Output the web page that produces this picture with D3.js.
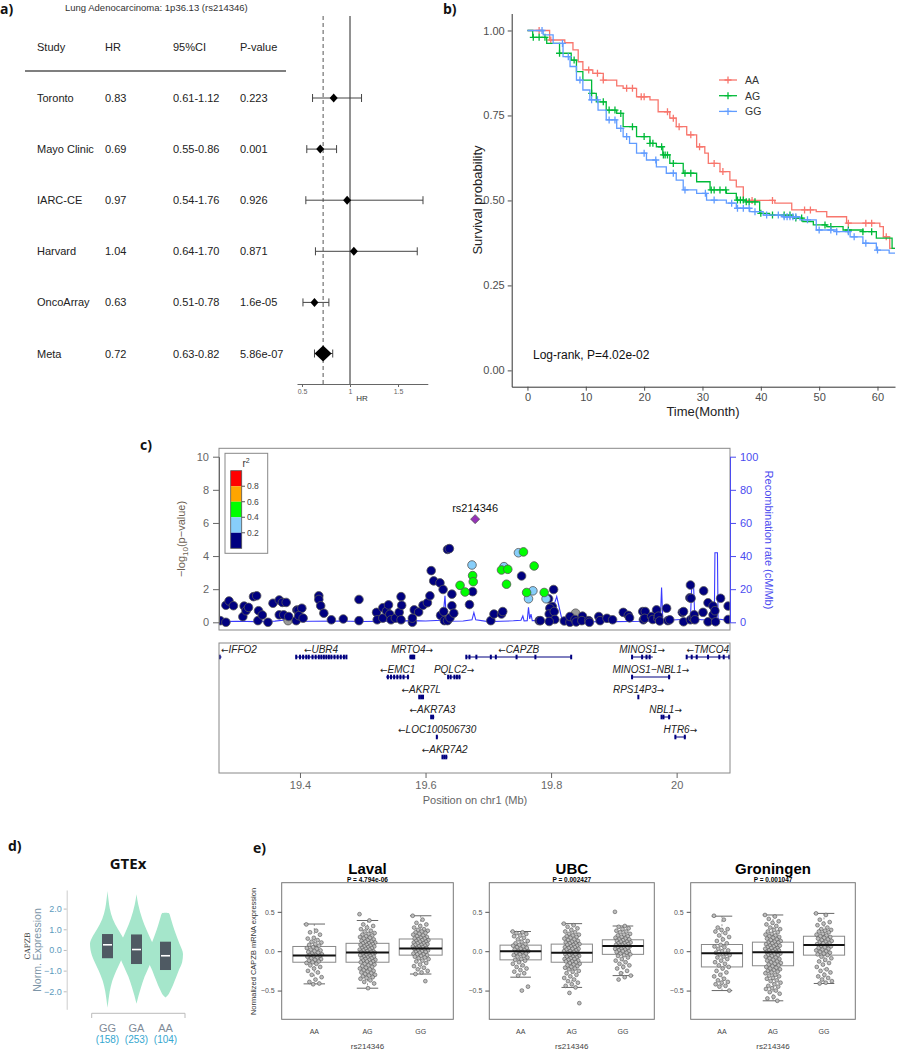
<!DOCTYPE html>
<html>
<head>
<meta charset="utf-8">
<script src="https://cdn.jsdelivr.net/npm/d3@7/dist/d3.min.js"></script>
<style>
body { margin: 0; background: #fff; }
text { font-family: "Liberation Sans", Arial, sans-serif; }
.plab { font-family: "Open Sans", sans-serif; font-weight: bold; font-size: 14px; fill: #111; }
</style>
</head>
<body>
<svg id="fig" width="900" height="1050"></svg>
<script>
/**
 * Data
 */
// a) forest plot
var studies = ["Toronto", "Mayo Clinic", "IARC-CE", "Harvard", "OncoArray", "Meta"];
var hr = [0.83, 0.69, 0.97, 1.04, 0.63, 0.72];
var ciLow = [0.61, 0.55, 0.54, 0.64, 0.51, 0.63];
var ciHigh = [1.12, 0.86, 1.76, 1.70, 0.78, 0.82];
var pvals = ["0.223", "0.001", "0.926", "0.871", "1.6e-05", "5.86e-07"];

// b) Kaplan-Meier steps
var kmGroups = ["AA", "AG", "GG"];
var kmColors = ["#F8766D", "#00BA38", "#619CFF"];
var kmTimes = [
    [0, 3.8, 6.4, 7.8, 8.7, 9.5, 11.2, 13, 15.3, 16.4, 18.7, 21, 22.4, 24.4, 25.5, 27.3, 29, 30.4, 31, 33, 34.7, 35.8, 37, 42.4, 45.3, 49.5, 51.3, 54.7, 60.4, 61, 62.1],
    [0, 0.9, 3.3, 5.5, 7.5, 8.4, 9.5, 11, 11.8, 13.5, 15.3, 16.4, 18.7, 21, 22.1, 23.2, 24.4, 26.7, 29, 31.3, 34.1, 35.8, 37.5, 39.8, 41.5, 45.5, 47.2, 49, 51.3, 54.1, 57.5, 59.8, 62.5],
    [0, 2.7, 4.4, 6.1, 7.3, 8.4, 9.5, 10.7, 12.1, 13.5, 15.3, 16.4, 17.5, 18.7, 20.4, 22.1, 23.8, 25.5, 26.7, 29, 30.7, 34.1, 35.8, 38.1, 40.4, 43.8, 46.7, 49.5, 53, 55.3, 57.5, 59.8, 62]
];
var kmSurv = [
    [1, 0.972, 0.964, 0.943, 0.908, 0.884, 0.874, 0.854, 0.837, 0.83, 0.805, 0.796, 0.761, 0.742, 0.717, 0.693, 0.658, 0.639, 0.609, 0.585, 0.56, 0.54, 0.50, 0.492, 0.472, 0.467, 0.452, 0.433, 0.423, 0.393, 0.359],
    [1, 0.98, 0.962, 0.933, 0.913, 0.879, 0.854, 0.815, 0.79, 0.766, 0.756, 0.717, 0.688, 0.668, 0.658, 0.634, 0.609, 0.58, 0.555, 0.531, 0.521, 0.501, 0.496, 0.462, 0.457, 0.448, 0.438, 0.428, 0.423, 0.413, 0.408, 0.389, 0.359],
    [1, 0.987, 0.962, 0.923, 0.894, 0.854, 0.825, 0.796, 0.766, 0.737, 0.712, 0.688, 0.668, 0.639, 0.619, 0.599, 0.58, 0.56, 0.531, 0.521, 0.501, 0.492, 0.477, 0.467, 0.457, 0.452, 0.443, 0.413, 0.408, 0.393, 0.374, 0.354, 0.345]
];
var kmCensor = [
    [2, 4, 10.5, 12, 13, 17, 18, 19.5, 20, 24, 25, 26, 28, 29.5, 32, 33.5, 38.5, 42, 47.5, 48.5, 55, 58, 59, 61.5],
    [1, 2, 3, 5.5, 8, 11, 13, 14, 15, 16, 18, 20, 21, 21.5, 23, 23.3, 23.6, 24, 25, 27, 28, 31.5, 32, 33, 34, 36, 36.5, 37, 37.5, 38, 39, 40, 42, 44, 45, 46, 47, 51, 52, 55, 57.5, 59],
    [2.5, 6, 7, 9, 11, 12, 14, 15, 16, 17, 20, 22, 25, 27, 30.5, 32, 35, 36, 37, 38, 39, 41, 43, 44, 44.5, 45, 45.5, 46, 48, 50, 52, 53, 55, 56, 58, 60]
];

// c) regional association: [position Mb, -log10 p, LD class] (0 navy <0.2, 1 light blue, 2 green, -1 grey, 9 lead SNP)
var lzPoints = [
    [19.273,0.1,0],[19.282,0.0,0],[19.282,1.03,0],[19.287,1.29,0],[19.294,1.0,0],[19.309,0.34,0],[19.311,0.98,0],
    [19.314,0.7,0],[19.318,0.9,0],[19.326,1.55,0],[19.331,1.6,0],[19.334,0.7,0],[19.333,0.1,0],[19.34,0.44,0],
    [19.349,0.0,0],[19.357,1.15,0],[19.367,1.35,0],[19.367,0.45,0],[19.372,1.2,0],[19.378,1.2,0],[19.374,0.45,0],
    [19.381,0.1,-1],[19.382,0.35,0],[19.394,0.1,0],[19.395,0.74,0],[19.397,0.72,0],[19.403,0.85,0],[19.398,0.4,0],
    [19.405,0.25,0],[19.43,1.6,0],[19.43,1.38,0],[19.433,1.0,0],[19.438,0.55,0],[19.45,0.15,0],[19.469,0.2,0],
    [19.494,1.38,0],[19.494,0.1,0],[19.522,0.6,0],[19.523,0.15,0],[19.532,0.88,0],[19.532,0.25,0],[19.538,0.68,0],
    [19.541,1.05,0],[19.543,0.48,0],[19.545,0.15,0],[19.552,0.25,0],[19.558,0.6,0],[19.561,1.55,0],[19.562,1.03,0],
    [19.561,0.15,0],[19.579,0.0,0],[19.579,0.25,0],[19.582,0.75,0],[19.589,0.62,0],[19.596,1.03,0],[19.603,1.18,0],
    [19.607,1.6,0],[19.609,3.12,0],[19.613,2.5,0],[19.623,2.38,0],[19.624,0.42,0],[19.628,1.98,0],[19.629,0.65,0],
    [19.63,0.1,0],[19.635,4.4,0],[19.638,4.45,0],[19.635,0.1,0],[19.639,0.27,0],[19.642,1.7,0],[19.642,1.0,0],
    [19.645,0.55,0],[19.655,2.23,2],[19.663,1.83,2],[19.67,1.07,0],[19.674,3.46,1],[19.675,2.82,2],[19.676,2.45,2],
    [19.675,1.85,0],[19.704,0.1,0],[19.709,0.5,0],[19.721,0.5,0],[19.723,0.65,0],[19.725,3.36,1],[19.721,3.16,2],
    [19.731,3.2,2],[19.729,2.3,2],[19.748,4.2,1],[19.756,4.25,2],[19.753,2.8,0],[19.761,1.8,2],[19.771,1.9,1],
    [19.764,1.42,1],[19.773,3.4,2],[19.781,0.1,0],[19.789,1.8,2],[19.792,1.42,1],[19.796,1.42,0],[19.804,1.98,0],
    [19.802,0.95,0],[19.798,0.85,0],[19.797,0.5,0],[19.805,0.65,0],[19.806,0.17,0],[19.797,0.05,0],[19.783,0.1,0],
    [19.821,0.08,0],[19.83,0.0,0],[19.83,0.35,0],[19.839,0.55,-1],[19.838,0.17,0],[19.84,0.02,0],[19.85,0.37,0],
    [19.849,0.1,0],[19.86,0.1,0],[19.861,0.0,0],[19.876,0.35,0],[19.878,0.1,0],[19.889,0.24,0],[19.898,0.15,0],
    [19.915,0.6,0],[19.923,0.42,0],[19.925,0.27,0],[19.946,0.65,0],[19.947,0.15,0],[19.95,0.65,0],[19.949,0.24,0],
    [19.96,0.35,0],[19.962,0.17,0],[19.968,0.75,0],[19.97,0.24,0],[19.971,0.37,0],[19.973,0.08,0],[19.984,0.85,0],
    [19.986,0.1,0],[19.989,0.15,0],[20.009,0.6,0],[20.011,0.65,0],[20.011,0.03,0],[20.022,2.25,0],[20.021,1.48,0],
    [20.023,1.45,0],[20.022,0.15,0],[20.026,0.25,0],[20.028,0.45,0],[20.029,0.15,0],[20.042,0.6,0],[20.043,1.9,0],
    [20.05,1.18,0],[20.05,0.03,0],[20.058,0.98,0],[20.058,0.45,0],[20.061,0.7,0],[20.062,0.03,0],[20.07,1.45,0],
    [20.082,0.98,0],[20.082,0.17,0],
    [19.679,6.23,9]
];
var leadSnp = "rs214346";
var ldBreaks = ["0.8", "0.6", "0.4", "0.2"];
var ldColors = ["#FF0000", "#FFA500", "#00FF00", "#87CEFA", "#000080"];

// recombination rate (cM/Mb)
var rcPos = [19.271,19.30,19.33,19.36,19.38,19.385,19.42,19.46,19.50,19.55,19.58,19.60,19.625,19.629,19.631,19.633,19.636,
    19.66,19.674,19.677,19.68,19.70,19.72,19.74,19.752,19.755,19.757,19.762,19.764,19.766,19.768,19.77,19.80,19.806,
    19.809,19.818,19.85,19.90,19.95,19.974,19.976,19.978,20.00,20.022,20.024,20.027,20.029,20.04,20.05,20.06,20.061,
    20.065,20.066,20.085];
var rcRate = [0.5,0.6,0.4,0.7,1.5,0.5,0.6,0.8,0.5,0.7,1.0,0.8,1.2,8,16,3,0.6,
    0.8,1.5,5.8,1.5,0.4,0.6,0.9,1.2,3.8,0.8,1,9,2,5,1,1.2,12,
    15.5,0.5,0.3,0.4,0.6,1,21,1,1.5,2,22,22,2,1.5,1.5,2,42,
    42,2,1];

// genes
var geneNames = ["IFFO2", "UBR4", "MRTO4", "CAPZB", "MINOS1", "TMCO4", "EMC1", "PQLC2", "MINOS1\u2212NBL1",
    "AKR7L", "RPS14P3", "AKR7A3", "NBL1", "LOC100506730", "HTR6", "AKR7A2"];
var geneStart = [19.23, 19.393, 19.574, 19.664, 19.928, 20.015, 19.537, 19.635, 19.928, 19.589, 19.939, 19.608, 19.975, 19.617, 19.997, 19.626];
var geneEnd = [19.275, 19.474, 19.583, 19.833, 19.962, 20.09, 19.574, 19.656, 19.99, 19.597, 19.940, 19.614, 19.99, 19.62, 20.015, 19.635];
var geneStrand = ["-", "-", "+", "-", "+", "-", "-", "+", "+", "-", "+", "-", "+", "-", "+", "-"];
var geneRow = [0, 0, 0, 0, 0, 0, 1, 1, 1, 2, 2, 3, 3, 4, 4, 5];
var geneExons = [
    [19.272],
    [19.394,19.40,19.405,19.41,19.414,19.42,19.425,19.43,19.434,19.438,19.442,19.446,19.45,19.455,19.46,19.465,19.47,19.474],
    [19.576,19.578,19.58,19.582],
    [19.665,19.67,19.681,19.704,19.712,19.745,19.775,19.832],
    [19.929,19.945,19.952,19.957],
    [20.016,20.024,20.032,20.05,20.068,20.075,20.084],
    [19.54,19.545,19.55,19.555,19.56,19.565,19.572],
    [19.636,19.64,19.646,19.65,19.654],
    [19.929,19.988],
    [19.59,19.593,19.596],
    [19.939],
    [19.609,19.612],
    [19.976,19.979,19.988],
    [19.618],
    [19.998,20.013],
    [19.627,19.63,19.633]
];

// d) GTEx violins: [expression, relative half width]
var gtexGenos = ["GG", "GA", "AA"];
var gtexCounts = ["(158)", "(253)", "(104)"];
var gtexProfile = [
    [[2.85,0],[2.4,0.06],[2.0,0.13],[1.5,0.3],[1.0,0.6],[0.6,0.88],[0.3,1.0],[0,0.97],[-0.5,0.78],[-1.0,0.5],[-1.5,0.27],[-2.0,0.13],[-2.4,0.06],[-2.8,0]],
    [[2.7,0],[2.2,0.1],[1.5,0.33],[1.0,0.56],[0.5,0.82],[0.1,1.0],[-0.3,0.95],[-0.8,0.72],[-1.3,0.46],[-1.8,0.26],[-2.2,0.12],[-2.6,0]],
    [[1.8,0],[1.78,0.2],[1.6,0.28],[1.2,0.42],[0.8,0.58],[0.3,0.8],[-0.2,1.0],[-0.6,0.95],[-1.0,0.75],[-1.5,0.52],[-1.9,0.32],[-2.2,0.12],[-2.3,0]]
];
// [q1, median, q3]
var gtexBox = [[-0.4, 0.25, 0.77], [-0.68, 0.02, 0.75], [-0.97, -0.28, 0.4]];

// e) eQTL box plots
var cohorts = ["Laval", "UBC", "Groningen"];
var cohortP = ["P = 4.794e-06", "P = 0.002427", "P = 0.001047"];
var eqGenos = ["AA", "AG", "GG"];
// [q1, median, q3, lower whisker, upper whisker]
var eqStats = [
    [[-0.14,-0.055,0.06,-0.415,0.345], [-0.14,-0.017,0.10,-0.47,0.39], [-0.05,0.035,0.155,-0.29,0.45]],
    [[-0.11,0.0,0.077,-0.33,0.25], [-0.14,-0.02,0.09,-0.46,0.35], [-0.04,0.065,0.145,-0.31,0.32]],
    [[-0.2,-0.025,0.085,-0.5,0.445], [-0.185,-0.013,0.115,-0.63,0.46], [-0.05,0.08,0.19,-0.41,0.48]]
];
var lavalAA = [0.34,0.26,0.24,0.21,0.17,0.16,0.14,0.12,0.11,0.09,0.08,0.07,0.05,0.04,0.03,0.02,0.01,0.0,-0.01,-0.02,-0.03,-0.04,-0.05,-0.05,-0.06,-0.06,-0.07,-0.08,-0.09,-0.1,-0.11,-0.12,-0.13,-0.14,-0.15,-0.16,-0.18,-0.2,-0.22,-0.25,-0.27,-0.3,-0.33,-0.36,-0.39,-0.41,-0.42];
var lavalAG = [0.47,0.39,0.34,0.32,0.3,0.28,0.26,0.25,0.23,0.22,0.21,0.2,0.19,0.18,0.17,0.16,0.15,0.14,0.13,0.12,0.12,0.11,0.1,0.1,0.09,0.08,0.08,0.07,0.06,0.06,0.05,0.04,0.04,0.03,0.02,0.02,0.01,0.0,0.0,-0.01,-0.01,-0.02,-0.02,-0.03,-0.03,-0.04,-0.05,-0.05,-0.06,-0.07,-0.07,-0.08,-0.09,-0.09,-0.1,-0.11,-0.11,-0.12,-0.13,-0.13,-0.14,-0.15,-0.16,-0.17,-0.18,-0.19,-0.2,-0.21,-0.22,-0.23,-0.24,-0.25,-0.26,-0.27,-0.28,-0.29,-0.3,-0.31,-0.32,-0.33,-0.34,-0.35,-0.37,-0.39,-0.41,-0.47];
var lavalGG = [0.45,0.4,0.36,0.34,0.32,0.3,0.28,0.27,0.26,0.25,0.24,0.23,0.22,0.21,0.2,0.19,0.18,0.17,0.16,0.16,0.15,0.14,0.14,0.13,0.12,0.12,0.11,0.1,0.1,0.09,0.08,0.08,0.07,0.06,0.06,0.05,0.04,0.04,0.03,0.03,0.02,0.01,0.01,0.0,-0.01,-0.01,-0.02,-0.03,-0.04,-0.04,-0.05,-0.06,-0.07,-0.08,-0.09,-0.1,-0.12,-0.13,-0.15,-0.17,-0.19,-0.21,-0.23,-0.25,-0.27,-0.29,-0.38];
var ubcAA = [0.25,0.24,0.23,0.22,0.2,0.19,0.17,0.15,0.13,0.12,0.1,0.09,0.08,0.07,0.06,0.05,0.04,0.03,0.02,0.01,0.0,0.0,-0.01,-0.02,-0.03,-0.04,-0.05,-0.06,-0.07,-0.08,-0.1,-0.11,-0.12,-0.14,-0.16,-0.18,-0.2,-0.22,-0.24,-0.26,-0.28,-0.31,-0.45,-0.5];
var ubcAG = [0.35,0.33,0.31,0.29,0.27,0.25,0.24,0.22,0.21,0.2,0.19,0.18,0.17,0.16,0.15,0.14,0.13,0.12,0.11,0.1,0.1,0.09,0.08,0.08,0.07,0.06,0.05,0.05,0.04,0.03,0.03,0.02,0.01,0.0,0.0,-0.01,-0.02,-0.02,-0.03,-0.04,-0.04,-0.05,-0.06,-0.07,-0.07,-0.08,-0.09,-0.1,-0.1,-0.11,-0.12,-0.13,-0.13,-0.14,-0.15,-0.16,-0.17,-0.18,-0.19,-0.2,-0.21,-0.22,-0.23,-0.25,-0.26,-0.28,-0.3,-0.32,-0.34,-0.36,-0.38,-0.4,-0.42,-0.44,-0.46,-0.53,-0.66];
var ubcGG = [0.5,0.32,0.31,0.29,0.28,0.26,0.25,0.24,0.22,0.21,0.2,0.19,0.18,0.17,0.16,0.15,0.15,0.14,0.13,0.12,0.12,0.11,0.1,0.1,0.09,0.08,0.08,0.07,0.07,0.06,0.05,0.05,0.04,0.03,0.03,0.02,0.01,0.0,0.0,-0.01,-0.02,-0.03,-0.04,-0.05,-0.06,-0.08,-0.1,-0.12,-0.14,-0.16,-0.18,-0.2,-0.22,-0.25,-0.28,-0.31,-0.33,-0.36];
var groAA = [0.45,0.4,0.3,0.28,0.27,0.25,0.23,0.2,0.18,0.15,0.13,0.1,0.08,0.06,0.05,0.03,0.01,0.0,-0.02,-0.03,-0.04,-0.05,-0.07,-0.08,-0.1,-0.12,-0.14,-0.16,-0.18,-0.2,-0.22,-0.25,-0.27,-0.3,-0.32,-0.35,-0.37,-0.39,-0.4,-0.42,-0.44,-0.45,-0.5];
var groAG = [0.46,0.44,0.41,0.38,0.36,0.34,0.32,0.3,0.28,0.27,0.25,0.24,0.22,0.21,0.2,0.19,0.18,0.17,0.16,0.15,0.14,0.13,0.12,0.11,0.11,0.1,0.09,0.08,0.07,0.07,0.06,0.05,0.04,0.04,0.03,0.02,0.01,0.01,0.0,-0.01,-0.01,-0.02,-0.03,-0.04,-0.05,-0.05,-0.06,-0.07,-0.08,-0.09,-0.1,-0.11,-0.12,-0.13,-0.14,-0.15,-0.16,-0.17,-0.18,-0.19,-0.2,-0.21,-0.22,-0.23,-0.24,-0.25,-0.26,-0.27,-0.28,-0.3,-0.31,-0.32,-0.34,-0.35,-0.37,-0.38,-0.4,-0.42,-0.44,-0.45,-0.47,-0.48,-0.5,-0.52,-0.54,-0.58,-0.6,-0.63];
var groGG = [0.48,0.46,0.4,0.37,0.35,0.33,0.3,0.28,0.27,0.26,0.25,0.24,0.22,0.21,0.2,0.19,0.18,0.17,0.16,0.15,0.14,0.13,0.12,0.11,0.1,0.1,0.09,0.08,0.07,0.06,0.05,0.04,0.03,0.02,0.01,0.0,-0.01,-0.02,-0.03,-0.04,-0.05,-0.07,-0.09,-0.11,-0.13,-0.15,-0.17,-0.2,-0.23,-0.25,-0.27,-0.3,-0.32,-0.34,-0.36,-0.38,-0.4,-0.41];
var eqValues = [[lavalAA, lavalAG, lavalGG], [ubcAA, ubcAG, ubcGG], [groAA, groAG, groGG]];

var svg = d3.select("#fig");

window.onload = function(){
    drawForest();
    drawKM();
    drawLocus();
    drawGtex();
    drawEqtl();
};

function styleAxis(g, size, color){
    g.selectAll("text").style("font-size", size).style("fill", color)
        .style("font-family", "'Liberation Sans', Arial, sans-serif");
    g.selectAll("line").style("stroke", color);
    g.select(".domain").style("stroke", color);
}

/**
 * a) forest plot
 */
function drawForest(){
    var g = svg.append("g");
    g.append("text").attr("class", "plab").attr("x", 0).attr("y", 14).text("a)");
    g.append("text").attr("x", 65).attr("y", 11).style("font-size", "9.5px").style("fill", "#333")
        .text("Lung Adenocarcinoma: 1p36.13 (rs214346)");

    var colX = [37, 105, 173, 240];
    g.selectAll(".head").data(["Study", "HR", "95%CI", "P-value"]).enter().append("text")
        .attr("x", function(d, i){ return colX[i]; })
        .attr("y", 50.5)
        .style("font-size", "11px").style("fill", "#222")
        .text(function(d){ return d; });
    g.append("line").attr("x1", 25).attr("x2", 286).attr("y1", 71).attr("y2", 71)
        .style("stroke", "#555").style("stroke-width", 1.3);

    var y = d3.scalePoint().domain(studies).range([98, 353.5]);
    var x = d3.scaleLinear().domain([0.448, 1.81]).range([297, 427.8]);

    studies.forEach(function(s, i){
        var cells = [s, hr[i].toFixed(2), ciLow[i].toFixed(2) + "-" + ciHigh[i].toFixed(2), pvals[i]];
        cells.forEach(function(c, j){
            g.append("text").attr("x", colX[j]).attr("y", y(s) + 4)
                .style("font-size", "11px").style("fill", "#222").text(c);
        });
    });

    // reference lines
    g.append("line").attr("x1", x(1)).attr("x2", x(1)).attr("y1", 16).attr("y2", 384)
        .style("stroke", "#777").style("stroke-width", 1.6);
    g.append("line").attr("x1", x(0.72)).attr("x2", x(0.72)).attr("y1", 16).attr("y2", 384)
        .style("stroke", "#555").style("stroke-width", 1).style("stroke-dasharray", "4,3");

    // CI bars
    var rows = g.selectAll(".ci").data(studies).enter().append("g");
    rows.append("line")
        .attr("x1", function(d, i){ return x(ciLow[i]); })
        .attr("x2", function(d, i){ return x(ciHigh[i]); })
        .attr("y1", function(d){ return y(d); }).attr("y2", function(d){ return y(d); })
        .style("stroke", "#444").style("stroke-width", 1);
    [ciLow, ciHigh].forEach(function(arr){
        rows.append("line")
            .attr("x1", function(d, i){ return x(arr[i]); })
            .attr("x2", function(d, i){ return x(arr[i]); })
            .attr("y1", function(d){ return y(d) - 4; }).attr("y2", function(d){ return y(d) + 4; })
            .style("stroke", "#444").style("stroke-width", 1);
    });
    rows.append("path")
        .attr("d", function(d, i){
            var w = i === 5 ? 8.5 : 4, h = i === 5 ? 8 : 4.5;
            return "M" + (-w) + ",0L0," + (-h) + "L" + w + ",0L0," + h + "Z";
        })
        .attr("transform", function(d, i){ return "translate(" + x(hr[i]) + "," + y(d) + ")"; })
        .style("fill", "#000");

    var ax = g.append("g").attr("transform", "translate(0,384)")
        .call(d3.axisBottom(x).tickValues([0.5, 1, 1.5]).tickSize(3).tickSizeOuter(0).tickPadding(2)
            .tickFormat(function(d){ return d; }));
    styleAxis(ax, "7px", "#666");
    g.append("text").attr("x", 362).attr("y", 401).attr("text-anchor", "middle")
        .style("font-size", "8px").style("fill", "#333").text("HR");
}

/**
 * b) Kaplan-Meier curves
 */
function survAt(times, surv, t){
    var i = d3.bisectRight(times, t) - 1;
    return surv[Math.max(0, i)];
}

function drawKM(){
    var g = svg.append("g");
    g.append("text").attr("class", "plab").attr("x", 443).attr("y", 14).text("b)");

    var x = d3.scaleLinear().domain([-2.7, 63]).range([511.7, 895]);
    var y = d3.scaleLinear().domain([-0.048, 1.05]).range([386.7, 13.5]);

    var xa = g.append("g").attr("transform", "translate(0,386.7)")
        .call(d3.axisBottom(x).tickValues([0, 10, 20, 30, 40, 50, 60]).tickSize(4).tickSizeOuter(0));
    styleAxis(xa, "11px", "#4d4d4d");
    xa.select(".domain").style("stroke", "#333");
    var ya = g.append("g").attr("transform", "translate(511.7,0)")
        .call(d3.axisLeft(y).tickValues([0, 0.25, 0.5, 0.75, 1]).tickSize(4).tickSizeOuter(0)
            .tickFormat(d3.format(".2f")));
    styleAxis(ya, "11px", "#4d4d4d");
    ya.select(".domain").style("stroke", "#333");

    g.append("text").attr("x", 703).attr("y", 416).attr("text-anchor", "middle")
        .style("font-size", "13px").style("fill", "#222").text("Time(Month)");
    g.append("text").attr("transform", "translate(482,200) rotate(-90)").attr("text-anchor", "middle")
        .style("font-size", "13px").style("fill", "#222").text("Survival probability");

    var line = d3.line()
        .x(function(d){ return x(d[0]); })
        .y(function(d){ return y(d[1]); })
        .curve(d3.curveStepAfter);

    kmGroups.forEach(function(grp, k){
        var pts = kmTimes[k].map(function(t, i){ return [t, kmSurv[k][i]]; });
        pts.push([63, kmSurv[k][kmSurv[k].length - 1]]);
        g.append("path").datum(pts).attr("d", line)
            .style("fill", "none").style("stroke", kmColors[k]).style("stroke-width", 1.3);
        g.selectAll(".cen" + k).data(kmCensor[k]).enter().append("path")
            .attr("d", "M-3.5,0H3.5M0,-3.5V3.5")
            .attr("transform", function(t){
                return "translate(" + x(t) + "," + y(survAt(kmTimes[k], kmSurv[k], t)) + ")";
            })
            .style("stroke", kmColors[k]).style("stroke-width", 1.3);

        // legend
        var ly = 80 + k * 15.7;
        g.append("line").attr("x1", 728 - 9).attr("x2", 728 + 9).attr("y1", ly).attr("y2", ly)
            .style("stroke", kmColors[k]).style("stroke-width", 1.3);
        g.append("path").attr("d", "M-3.5,0H3.5M0,-3.5V3.5").attr("transform", "translate(728," + ly + ")")
            .style("stroke", kmColors[k]).style("stroke-width", 1.3);
        g.append("text").attr("x", 745).attr("y", ly + 4).style("font-size", "10.5px").style("fill", "#333").text(grp);
    });

    g.append("text").attr("x", 533).attr("y", 358.5).style("font-size", "12px").style("fill", "#111")
        .text("Log-rank, P=4.02e-02");
}

/**
 * c) regional association plot
 */
function drawLocus(){
    var g = svg.append("g");
    g.append("text").attr("class", "plab").attr("x", 140).attr("y", 450).text("c)");

    var left = 219, right = 730, top = 448.3, bottom = 630;
    var x = d3.scaleLinear().domain([19.271, 20.085]).range([left, right]);
    var y = d3.scaleLinear().domain([0, 10]).range([622.3, 456.7]);
    var yr = d3.scaleLinear().domain([0, 100]).range([622.3, 456.7]);

    svg.append("defs").append("clipPath").attr("id", "lzclip")
        .append("rect").attr("x", left).attr("y", top).attr("width", right - left).attr("height", bottom - top);

    var plot = g.append("g").attr("clip-path", "url(#lzclip)");

    // recombination rate
    var rline = d3.line()
        .x(function(d, i){ return x(d); })
        .y(function(d, i){ return yr(rcRate[i]); });
    plot.append("path").datum(rcPos).attr("d", rline)
        .style("fill", "none").style("stroke", "#3a3aff").style("stroke-width", 1.1);

    function ldColor(c){
        if (c === -1) return "#999999";
        if (c === 0) return ldColors[4];
        if (c === 1) return ldColors[3];
        if (c === 2) return ldColors[2];
        if (c === 3) return ldColors[1];
        return ldColors[0];
    }
    var pts = lzPoints.filter(function(d){ return d[2] !== 9; })
        .sort(function(a, b){ return a[2] - b[2]; });
    plot.selectAll(".snp").data(pts).enter().append("circle")
        .attr("cx", function(d){ return x(d[0]); })
        .attr("cy", function(d){ return y(d[1]); })
        .attr("r", 4.3)
        .style("fill", function(d){ return ldColor(d[2]); })
        .style("stroke", "#555").style("stroke-width", 0.8);

    var lead = lzPoints.filter(function(d){ return d[2] === 9; })[0];
    plot.append("path").attr("d", "M0,-4.5L4.5,0L0,4.5L-4.5,0Z")
        .attr("transform", "translate(" + x(lead[0]) + "," + y(lead[1]) + ")")
        .style("fill", "#9632B8").style("stroke", "#555").style("stroke-width", 0.8);
    g.append("text").attr("x", x(lead[0])).attr("y", y(lead[1]) - 7).attr("text-anchor", "middle")
        .style("font-size", "11px").style("fill", "#111").text(leadSnp);

    g.append("rect").attr("x", left).attr("y", top).attr("width", right - left).attr("height", bottom - top)
        .style("fill", "none").style("stroke", "#888").style("stroke-width", 1);

    var ya = g.append("g").attr("transform", "translate(" + left + ",0)")
        .call(d3.axisLeft(y).tickValues([0, 2, 4, 6, 8, 10]).tickSize(6).tickSizeOuter(0).tickPadding(4));
    styleAxis(ya, "11px", "#666");
    var yra = g.append("g").attr("transform", "translate(" + right + ",0)")
        .call(d3.axisRight(yr).tickValues([0, 20, 40, 60, 80, 100]).tickSize(6).tickSizeOuter(0).tickPadding(4));
    styleAxis(yra, "11px", "#4b4bef");

    var lt = g.append("text").attr("transform", "translate(185,539) rotate(-90)").attr("text-anchor", "middle")
        .style("font-size", "11px").style("fill", "#6d5f52");
    lt.append("tspan").text("\u2212log");
    lt.append("tspan").attr("dy", 3).style("font-size", "8px").text("10");
    lt.append("tspan").attr("dy", -3).text("(p\u2212value)");
    g.append("text").attr("transform", "translate(765,540) rotate(90)").attr("text-anchor", "middle")
        .style("font-size", "11px").style("fill", "#4b4bef").text("Recombination rate (cM/Mb)");

    // r2 legend
    var lg = g.append("g");
    lg.append("rect").attr("x", 225).attr("y", 453.3).attr("width", 42.7).attr("height", 100)
        .style("fill", "#fff").style("stroke", "#888");
    var lt2 = lg.append("text").attr("x", 246).attr("y", 467).attr("text-anchor", "middle")
        .style("font-size", "10px").style("fill", "#333");
    lt2.append("tspan").text("r");
    lt2.append("tspan").attr("dy", -4).style("font-size", "7px").text("2");
    var ly = d3.scaleLinear().domain([0, 5]).range([470.7, 548.3]);
    lg.selectAll(".ldbox").data(ldColors).enter().append("rect")
        .attr("x", 230.7).attr("width", 11)
        .attr("y", function(d, i){ return ly(i); })
        .attr("height", ly(1) - ly(0))
        .style("fill", function(d){ return d; });
    lg.append("rect").attr("x", 230.7).attr("y", ly(0)).attr("width", 11).attr("height", ly(5) - ly(0))
        .style("fill", "none").style("stroke", "#555").style("stroke-width", 0.8);
    ldBreaks.forEach(function(b, i){
        lg.append("line").attr("x1", 241.7).attr("x2", 245).attr("y1", ly(i + 1)).attr("y2", ly(i + 1))
            .style("stroke", "#555");
        lg.append("text").attr("x", 247).attr("y", ly(i + 1) + 3).style("font-size", "8.5px").style("fill", "#444").text(b);
    });

    // gene panel
    var gtop = 643, gbot = 773;
    svg.append("defs").append("clipPath").attr("id", "geneclip")
        .append("rect").attr("x", left).attr("y", gtop).attr("width", right - left).attr("height", gbot - gtop);
    var gp = g.append("g");
    var gclip = gp.append("g").attr("clip-path", "url(#geneclip)");
    var rowY = d3.scaleLinear().domain([0, 1]).range([657, 677]);
    geneNames.forEach(function(name, i){
        var ry = rowY(geneRow[i]);
        gclip.append("line").attr("x1", x(geneStart[i])).attr("x2", x(geneEnd[i]))
            .attr("y1", ry).attr("y2", ry).style("stroke", "#000080").style("stroke-width", 1);
        gclip.selectAll(".ex" + i).data(geneExons[i]).enter().append("rect")
            .attr("x", function(d){ return x(d) - 1; }).attr("y", ry - 2.3)
            .attr("width", 2).attr("height", 4.6)
            .style("fill", "#000080");
        var cx = x((geneStart[i] + geneEnd[i]) / 2);
        var t = gp.append("text").attr("x", cx).attr("y", ry - 4.5).attr("text-anchor", "middle")
            .style("font-size", "10px").style("fill", "#222");
        var arrow = function(sel, ch){
            sel.append("tspan").style("font-family", "'DejaVu Sans', sans-serif").style("font-size", "9px").text(ch);
        };
        if (geneStrand[i] === "-") arrow(t, "\u2190");
        t.append("tspan").style("font-style", "italic").text(name);
        if (geneStrand[i] === "+") arrow(t, "\u2192");
        var bb = t.node().getBBox();
        if (bb.x < left + 2) t.attr("x", left + 2).attr("text-anchor", "start");
        if (bb.x + bb.width > right - 1) t.attr("x", right - 1).attr("text-anchor", "end");
    });
    gp.append("rect").attr("x", left).attr("y", gtop).attr("width", right - left).attr("height", gbot - gtop)
        .style("fill", "none").style("stroke", "#888");
    var xa = g.append("g").attr("transform", "translate(0," + gbot + ")")
        .call(d3.axisBottom(x).tickValues([19.4, 19.6, 19.8, 20]).tickSize(5).tickSizeOuter(0)
            .tickFormat(function(d){ return d3.format("")(d); }));
    styleAxis(xa, "11px", "#666");
    xa.select(".domain").remove();
    g.append("text").attr("x", 475).attr("y", 804).attr("text-anchor", "middle")
        .style("font-size", "11px").style("fill", "#666").text("Position on chr1 (Mb)");
}

/**
 * d) GTEx violin plot
 */
function drawGtex(){
    var g = svg.append("g");
    g.append("text").attr("class", "plab").attr("x", 8).attr("y", 851).text("d)");
    g.append("text").attr("x", 128).attr("y", 868.5).attr("text-anchor", "middle")
        .style("font-family", "'Open Sans', sans-serif").style("font-weight", "bold")
        .style("font-size", "15px").style("fill", "#111").text("GTEx");

    var y = d3.scaleLinear().domain([-2.87, 2.9]).range([1009.3, 890]);
    var x = d3.scalePoint().domain(gtexGenos).range([107.5, 165.5]);

    var ya = g.append("g").attr("transform", "translate(66.7,0)")
        .call(d3.axisLeft(y).tickValues([2, 1, 0, -1, -2]).tickSize(3).tickSizeOuter(0).tickPadding(2)
            .tickFormat(d3.format(".1f")));
    styleAxis(ya, "9px", "#5b9bbd");
    ya.selectAll("line").style("stroke", "#bbb");
    ya.select(".domain").style("stroke", "#ccc");

    g.append("text").attr("transform", "translate(41,950) rotate(-90)").attr("text-anchor", "middle")
        .style("font-size", "10.5px").style("fill", "#7d96a8").text("Norm. Expression");
    g.append("text").attr("transform", "translate(30,946) rotate(-90)").attr("text-anchor", "middle")
        .style("font-size", "7.5px").style("font-family", "'DejaVu Serif', serif").style("fill", "#333").text("CAPZB");

    g.append("path").attr("d", "M91.7,1018V1013.3H185V1018").style("fill", "none").style("stroke", "#bbb");

    gtexGenos.forEach(function(geno, i){
        var cx = x(geno);
        var area = d3.area()
            .y(function(d){ return y(d[0]); })
            .x0(function(d){ return cx - d[1] * 17.5; })
            .x1(function(d){ return cx + d[1] * 17.5; })
            .curve(d3.curveMonotoneY);
        g.append("path").datum(gtexProfile[i]).attr("d", area).style("fill", "#a5e6cb");
        var b = gtexBox[i];
        g.append("rect").attr("x", cx - 5.5).attr("width", 11)
            .attr("y", y(b[2])).attr("height", y(b[0]) - y(b[2]))
            .style("fill", "#4f5a63");
        g.append("line").attr("x1", cx - 4.5).attr("x2", cx + 4.5).attr("y1", y(b[1])).attr("y2", y(b[1]))
            .style("stroke", "#fff").style("stroke-width", 1.6);
        g.append("text").attr("x", cx).attr("y", 1032).attr("text-anchor", "middle")
            .style("font-size", "11px").style("fill", "#7f8c99").text(geno);
        g.append("text").attr("x", cx).attr("y", 1043).attr("text-anchor", "middle")
            .style("font-size", "10px").style("fill", "#35a7d0").text(gtexCounts[i]);
    });
}

/**
 * e) eQTL box plots
 */
function drawEqtl(){
    var g = svg.append("g");
    g.append("text").attr("class", "plab").attr("x", 253).attr("y", 853).text("e)");

    var lefts = [281.7, 489.3, 690.7];
    var widths = [171.6, 165, 164.6];
    var y = d3.scaleLinear().domain([-0.865, 0.87]).range([1019.3, 882.7]);

    cohorts.forEach(function(name, c){
        var l = lefts[c], w = widths[c];
        var x = d3.scalePoint().domain(eqGenos).range([l + 0.19 * w, l + 0.81 * w]);
        var cg = g.append("g");
        var mid = l + w / 2;
        cg.append("text").attr("x", mid).attr("y", 873.5).attr("text-anchor", "middle")
            .style("font-weight", "bold").style("font-size", "15px").style("fill", "#000").text(name);
        cg.append("text").attr("x", mid).attr("y", 881.5).attr("text-anchor", "middle")
            .style("font-weight", "bold").style("font-size", "6.5px").style("fill", "#000").text(cohortP[c]);

        var bw = 0.25 * w;
        eqGenos.forEach(function(geno, k){
            var s = eqStats[c][k], cx = x(geno);
            // whiskers
            cg.append("line").attr("x1", cx).attr("x2", cx).attr("y1", y(s[4])).attr("y2", y(s[0]))
                .style("stroke", "#999").style("stroke-dasharray", "2,2");
            cg.append("line").attr("x1", cx).attr("x2", cx).attr("y1", y(s[2])).attr("y2", y(s[3]))
                .style("stroke", "#999").style("stroke-dasharray", "2,2");
            [s[3], s[4]].forEach(function(v){
                cg.append("line").attr("x1", cx - bw / 4).attr("x2", cx + bw / 4).attr("y1", y(v)).attr("y2", y(v))
                    .style("stroke", "#666");
            });
            cg.append("rect").attr("x", cx - bw / 2).attr("width", bw)
                .attr("y", y(s[2])).attr("height", y(s[0]) - y(s[2]))
                .style("fill", "#fff").style("stroke", "#888");
            // jittered points
            var vals = eqValues[c][k];
            cg.selectAll(".p" + k).data(vals).enter().append("circle")
                .attr("cx", function(d, i){ return cx + (((i * 0.6180339) % 1) - 0.5) * 16; })
                .attr("cy", function(d){ return y(d); })
                .attr("r", 1.9)
                .style("fill", "#bdbdbd").style("stroke", "#555").style("stroke-width", 0.6);
            cg.append("line").attr("x1", cx - bw / 2).attr("x2", cx + bw / 2).attr("y1", y(s[1])).attr("y2", y(s[1]))
                .style("stroke", "#111").style("stroke-width", 2);
            cg.append("text").attr("x", cx).attr("y", 1033.5).attr("text-anchor", "middle")
                .style("font-size", "7px").style("fill", "#444").text(geno);
        });

        cg.append("rect").attr("x", l).attr("y", 882.7).attr("width", w).attr("height", 1019.3 - 882.7)
            .style("fill", "none").style("stroke", "#777");
        var ya = cg.append("g").attr("transform", "translate(" + l + ",0)")
            .call(d3.axisLeft(y).tickValues([-0.5, 0, 0.5]).tickSize(4).tickSizeOuter(0).tickPadding(3)
                .tickFormat(d3.format(".1f")));
        styleAxis(ya, "7px", "#555");
        ya.select(".domain").remove();
        cg.append("text").attr("x", x("AG")).attr("y", 1049).attr("text-anchor", "middle")
            .style("font-size", "8px").style("fill", "#444").text("rs214346");
    });

    g.append("text").attr("transform", "translate(256,951.5) rotate(-90)").attr("text-anchor", "middle")
        .style("font-size", "7.5px").style("fill", "#333").text("Normalized CAPZB mRNA expression");
}
</script>
</body>
</html>
